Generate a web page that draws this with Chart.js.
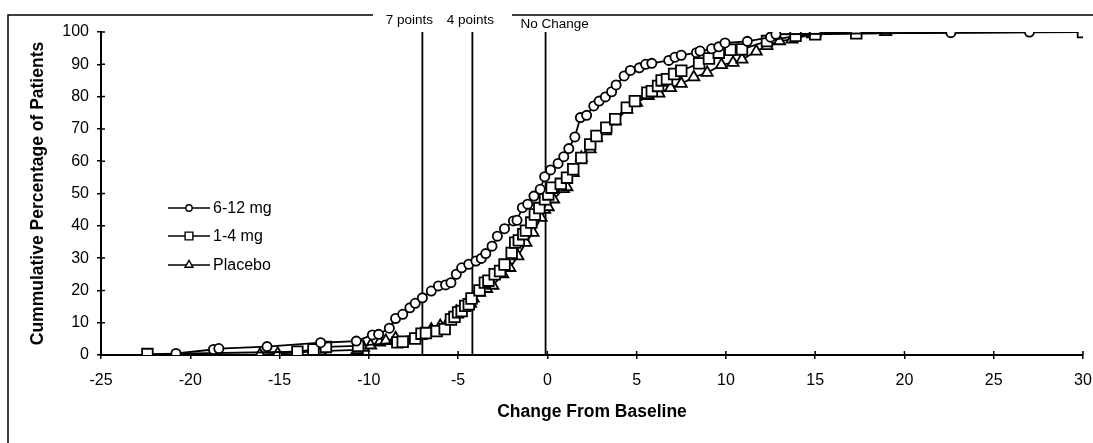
<!DOCTYPE html>
<html>
<head>
<meta charset="utf-8">
<title>Cumulative change from baseline</title>
<script src="https://cdn.jsdelivr.net/npm/chart.js@4.4.1/dist/chart.umd.min.js"></script>
<style>
  html, body { margin: 0; padding: 0; background: #fff; }
  #wrap { width: 1093px; height: 443px; }
</style>
</head>
<body>
<div id="wrap"><canvas id="cdf" width="1093" height="443"></canvas></div>
<script>
// 6-12 mg (circles)
const highX = [-20.8, -18.7, -18.4, -15.7, -12.7, -10.7, -9.8, -9.45, -8.85, -8.5, -8.1, -7.7, -7.4, -7.0,
  -6.5, -6.1, -5.7, -5.4, -5.1, -4.8, -4.4, -4.0, -3.7, -3.45, -3.1, -2.8, -2.4, -1.9, -1.7, -1.4, -1.1,
  -0.75, -0.4, -0.15, 0.18, 0.6, 0.92, 1.2, 1.54, 1.85, 2.2, 2.6, 2.9, 3.25, 3.6, 3.85, 4.3, 4.65, 5.15,
  5.5, 5.85, 6.8, 7.15, 7.5, 8.35, 8.55, 9.2, 9.6, 9.95, 11.2, 12.5, 12.8, 22.6, 27.0];
const highY = [0.5, 1.7, 2.0, 2.6, 3.8, 4.3, 6.2, 6.4, 8.3, 11.3, 12.6, 14.6, 16.0, 17.7,
  19.8, 21.4, 21.7, 22.4, 25.0, 27.0, 28.1, 29.1, 29.9, 31.4, 33.7, 36.8, 39.1, 41.5, 41.7, 45.6, 46.7,
  49.2, 51.3, 55.2, 57.3, 59.3, 61.4, 63.9, 67.5, 73.5, 74.2, 77.1, 78.6, 79.9, 81.5, 83.6, 86.4, 88.1, 88.9,
  90.0, 90.3, 91.2, 92.2, 92.8, 93.6, 94.1, 94.8, 95.4, 96.6, 97.1, 98.4, 99.3, 99.8, 100];

// 1-4 mg (squares)
const lowX = [-22.4, -14.0, -13.1, -12.4, -10.6, -8.4, -8.1, -7.4, -7.05, -6.8, -6.2, -5.75, -5.4, -5.2,
  -5.0, -4.8, -4.6, -4.4, -4.25, -3.8, -3.5, -3.3, -2.95, -2.65, -2.4, -2.0, -1.8, -1.6, -1.35, -1.2,
  -0.9, -0.7, -0.45, -0.13, 0.05, 0.24, 0.75, 1.1, 1.45, 1.9, 2.4, 2.75, 3.3, 3.8, 4.45, 4.9, 5.6, 5.85,
  6.2, 6.4, 6.7, 7.1, 7.5, 8.5, 9.05, 9.6, 10.25, 10.9, 12.3, 13.9, 15.0, 17.3, 30.0];
const lowY = [0.3, 1.0, 1.7, 2.5, 2.8, 3.9, 4.1, 5.1, 6.6, 6.8, 7.4, 8.0, 11.0, 11.8,
  13.2, 13.6, 15.2, 15.7, 17.5, 20.0, 22.4, 23.0, 25.0, 26.0, 28.0, 31.6, 34.8, 35.5, 37.4, 38.5,
  41.0, 43.5, 45.5, 48.2, 49.7, 51.8, 53.0, 54.9, 57.5, 61.0, 65.2, 67.8, 70.4, 73.0, 76.6, 78.6, 81.2, 81.7,
  83.3, 85.0, 85.4, 87.0, 88.0, 90.3, 91.8, 93.6, 94.5, 94.6, 97.2, 98.8, 99.3, 99.6, 100];

// Placebo (triangles)
const placeboX = [-16.1, -15.1, -12.7, -10.65, -10.3, -9.9, -9.4, -9.05, -8.5, -7.05, -6.5, -6.0, -5.45,
  -5.1, -4.7, -4.3, -4.15, -3.8, -3.4, -3.05, -2.5, -2.1, -1.65, -1.2, -0.8, -0.35, -0.15, 0.05, 0.35,
  0.9, 1.1, 1.45, 1.9, 2.4, 2.75, 3.25, 3.8, 4.45, 5.0, 5.65, 6.25, 6.9, 7.5, 8.2, 8.95, 9.75, 10.4,
  10.9, 11.7, 12.3, 13.0, 13.7, 14.85, 15.0, 18.95];
const placeboY = [0.1, 0.4, 1.2, 1.6, 2.3, 3.0, 3.9, 4.4, 5.2, 6.4, 7.9, 9.0, 11.3,
  13.4, 14.6, 15.9, 17.5, 19.3, 20.5, 21.5, 25.0, 27.0, 30.6, 34.8, 37.9, 42.5, 45.0, 45.8, 48.2,
  51.4, 52.0, 56.4, 61.1, 63.7, 67.3, 69.3, 72.4, 76.0, 78.1, 80.2, 81.0, 82.7, 84.0, 86.0, 87.4, 89.8, 90.5,
  91.5, 94.0, 95.7, 97.2, 97.7, 99.3, 99.8, 100];

// reference lines
const refLineX = [-7, -4.2, -0.1];
const refLineLabels = ['7 points', '4 points', 'No Change'];
const refLineSpan = [0, 100];

const seriesNames = ['6-12 mg', '1-4 mg', 'Placebo'];
const xTicks = { min: -25, max: 30, step: 5 };
const yTicks = { min: 0, max: 100, step: 10 };

const FONT = '"Liberation Sans", Arial, Helvetica, sans-serif';

function toPoints(xs, ys) {
    return xs.map((x, i) => ({ x: x, y: ys[i] }));
}

const markerStyles = [
    { pointStyle: 'circle', radius: 4.6, legendRadius: 3.2 },
    { pointStyle: 'rect', radius: 7.5, legendRadius: 5.5 },
    { pointStyle: 'triangle', radius: 6.4, legendRadius: 4.6 }
];

const seriesData = [toPoints(highX, highY), toPoints(lowX, lowY), toPoints(placeboX, placeboY)];

const datasets = seriesData.map((pts, i) => ({
    label: seriesNames[i],
    data: pts,
    showLine: true,
    borderColor: '#000',
    borderWidth: 1.8,
    pointStyle: markerStyles[i].pointStyle,
    pointRadius: markerStyles[i].radius,
    pointBackgroundColor: '#fff',
    pointBorderColor: '#000',
    pointBorderWidth: 1.8,
    tension: 0
}));

refLineX.forEach((x, i) => {
    datasets.push({
        label: refLineLabels[i],
        data: refLineSpan.map(y => ({ x: x, y: y })),
        showLine: true,
        borderColor: '#000',
        borderWidth: 1.8,
        pointRadius: 0
    });
});

// frame, crossing ticks, reference labels and the inset legend
const decorPlugin = {
    id: 'decor',
    beforeDraw(chart) {
        const ctx = chart.ctx;
        ctx.save();
        ctx.fillStyle = '#fff';
        ctx.fillRect(0, 0, chart.width, chart.height);
        ctx.strokeStyle = '#000';
        ctx.lineWidth = 1.5;
        ctx.beginPath();
        ctx.moveTo(8, chart.height);
        ctx.lineTo(8, 15);
        ctx.lineTo(373, 15);
        ctx.moveTo(512, 15);
        ctx.lineTo(chart.width, 15);
        ctx.stroke();
        ctx.restore();
    },
    afterDraw(chart) {
        const ctx = chart.ctx;
        const xs = chart.scales.x;
        const ys = chart.scales.y;
        const area = chart.chartArea;
        ctx.save();
        ctx.strokeStyle = '#000';
        ctx.lineWidth = 1.5;
        ctx.beginPath();
        xs.ticks.forEach(t => {
            const px = xs.getPixelForValue(t.value);
            ctx.moveTo(px, area.bottom);
            ctx.lineTo(px, area.bottom - 4);
        });
        ys.ticks.forEach(t => {
            const py = ys.getPixelForValue(t.value);
            ctx.moveTo(area.left, py);
            ctx.lineTo(area.left + 4, py);
        });
        ctx.stroke();

        // labels above the reference lines
        const labelShift = [-13, -2, 9];
        const labelY = [20, 20, 24];
        ctx.fillStyle = '#000';
        ctx.font = '13.5px ' + FONT;
        ctx.textAlign = 'center';
        ctx.textBaseline = 'middle';
        refLineX.forEach((x, i) => {
            ctx.fillText(refLineLabels[i], xs.getPixelForValue(x) + labelShift[i], labelY[i]);
        });

        // legend
        const lx0 = 168, lx1 = 210, rowY = [208, 236, 265];
        ctx.font = '16px ' + FONT;
        ctx.textAlign = 'left';
        seriesNames.forEach((name, i) => {
            ctx.beginPath();
            ctx.lineWidth = 1.6;
            ctx.moveTo(lx0, rowY[i]);
            ctx.lineTo(lx1, rowY[i]);
            ctx.stroke();
            ctx.fillStyle = '#fff';
            ctx.lineWidth = 1.4;
            Chart.helpers.drawPoint(ctx, {
                pointStyle: markerStyles[i].pointStyle,
                radius: markerStyles[i].legendRadius,
                rotation: 0,
                borderWidth: 1.4
            }, (lx0 + lx1) / 2, rowY[i]);
            ctx.fillStyle = '#000';
            ctx.fillText(name, lx1 + 3, rowY[i] + 1);
        });
        ctx.restore();
    }
};

new Chart(document.getElementById('cdf'), {
    type: 'scatter',
    data: { datasets: datasets },
    options: {
        responsive: false,
        animation: false,
        events: [],
        layout: { padding: { left: 0, top: 32, right: 10, bottom: 0 } },
        plugins: {
            legend: { display: false },
            tooltip: { enabled: false }
        },
        scales: {
            x: {
                type: 'linear',
                min: xTicks.min,
                max: xTicks.max,
                afterFit(scale) {
                    scale.height = 88;
                    scale.paddingLeft = 0;
                    scale.paddingRight = 0;
                },
                ticks: {
                    stepSize: xTicks.step,
                    color: '#000',
                    padding: 12,
                    maxRotation: 0,
                    font: { family: FONT, size: 16 }
                },
                grid: {
                    drawOnChartArea: false,
                    color: '#000',
                    lineWidth: 1.5,
                    tickLength: 4
                },
                border: { color: '#000', width: 2 },
                title: {
                    display: true,
                    text: 'Change From Baseline',
                    color: '#000',
                    padding: { top: 0, bottom: 20 },
                    font: { family: FONT, size: 17.5, weight: 'bold' }
                }
            },
            y: {
                type: 'linear',
                min: yTicks.min,
                max: yTicks.max,
                afterFit(scale) {
                    scale.width = 101;
                    scale.paddingTop = 0;
                    scale.paddingBottom = 0;
                },
                ticks: {
                    stepSize: yTicks.step,
                    color: '#000',
                    padding: 8,
                    font: { family: FONT, size: 16 }
                },
                grid: {
                    drawOnChartArea: false,
                    color: '#000',
                    lineWidth: 1.5,
                    tickLength: 4
                },
                border: { color: '#000', width: 2 },
                title: {
                    display: true,
                    text: 'Cummulative Percentage of Patients',
                    color: '#000',
                    padding: { top: 28, bottom: 0 },
                    font: { family: FONT, size: 17.5, weight: 'bold' }
                }
            }
        }
    },
    plugins: [decorPlugin]
});
</script>
</body>
</html>
